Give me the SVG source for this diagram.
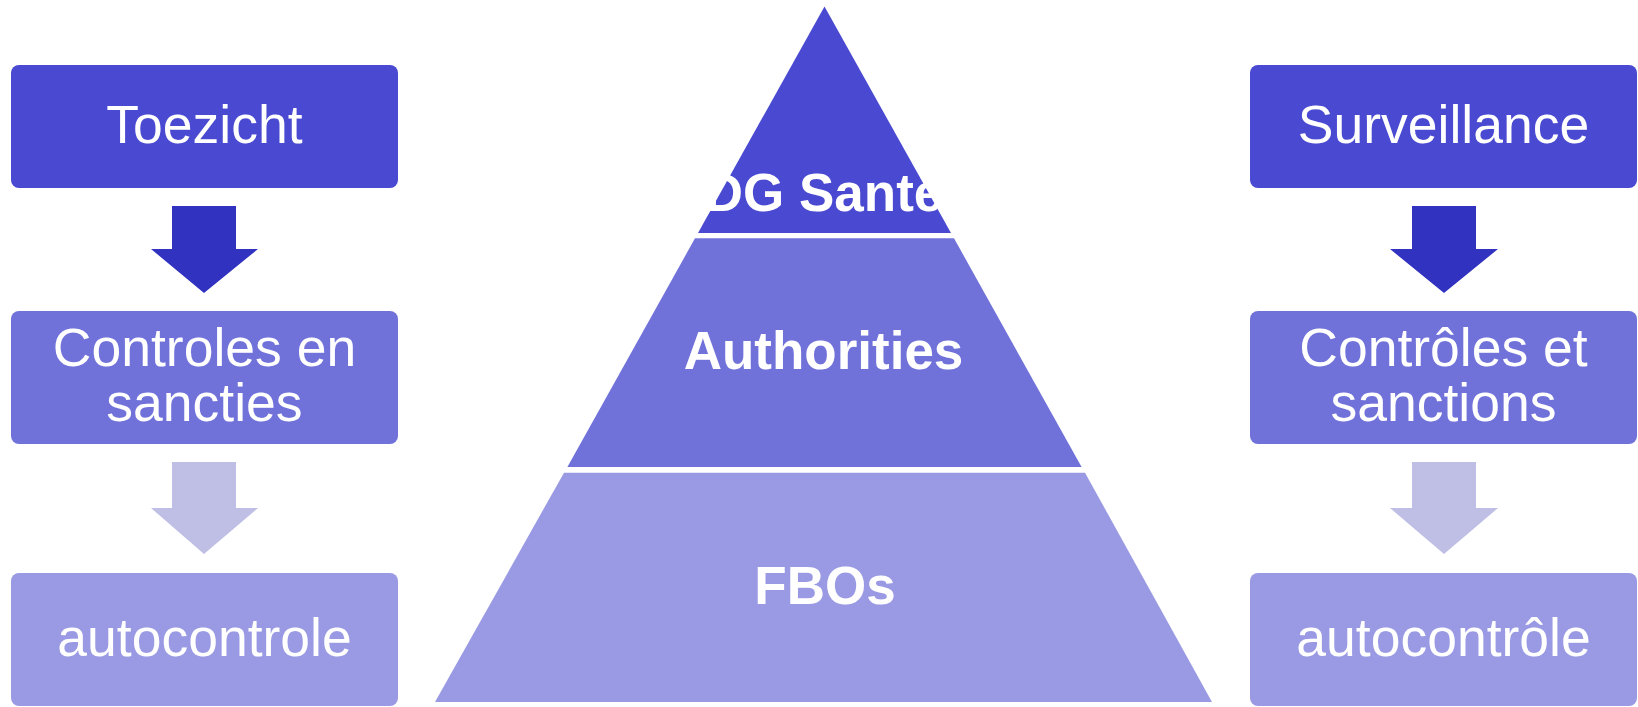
<svg xmlns="http://www.w3.org/2000/svg" width="1638" height="707" viewBox="0 0 1638 707">
<style>
.t{font-family:"Liberation Sans",Arial,sans-serif;fill:#ffffff;text-anchor:middle;font-size:53.5px}
.b{font-weight:bold;font-size:53px}
.c1{fill:#4949D1}
.c2{fill:#7072DA}
.c3{fill:#9A9AE4}
.a1{fill:#3232C0}
.a2{fill:#BFBFE6}
</style>
<rect width="1638" height="707" fill="#ffffff"/>
<g id="pyramid">
<g id="dg-sante">
<polygon class="c1" points="824.5,6.5 951,233 698,233"/>
<text class="t b" x="824" y="210.5">DG Sante</text>
</g>
<g id="authorities">
<polygon class="c2" points="695,238.3 954,238.3 1081.6,467 567.4,467"/>
<text class="t b" x="823.5" y="368.5">Authorities</text>
</g>
<g id="fbos">
<polygon class="c3" points="564,472.7 1085,472.7 1212,702 435,702"/>
<text class="t b" x="825" y="603.5">FBOs</text>
</g>
</g>
<g id="left-toezicht">
<rect class="c1" x="11" y="65" width="387" height="123" rx="8"/>
<text class="t" x="204.5" y="142.5">Toezicht</text>
</g>
<g id="left-controles">
<rect class="c2" x="11" y="311" width="387" height="133" rx="8"/>
<text class="t" x="204.5" y="365.5">Controles en</text>
<text class="t" x="204.5" y="421">sancties</text>
</g>
<g id="left-autocontrole">
<rect class="c3" x="11" y="573" width="387" height="133" rx="8"/>
<text class="t" x="204.5" y="656">autocontrole</text>
</g>
<g id="right-surveillance">
<rect class="c1" x="1250" y="65" width="387" height="123" rx="8"/>
<text class="t" x="1443.5" y="142.5">Surveillance</text>
</g>
<g id="right-controles">
<rect class="c2" x="1250" y="311" width="387" height="133" rx="8"/>
<text class="t" x="1443.5" y="365.5">Contrôles et</text>
<text class="t" x="1443.5" y="421">sanctions</text>
</g>
<g id="right-autocontrole">
<rect class="c3" x="1250" y="573" width="387" height="133" rx="8"/>
<text class="t" x="1443.5" y="656">autocontrôle</text>
</g>
<g id="connectors">
<polygon class="a1" points="172,206 236,206 236,249 258,249 204,293 151,249 172,249"/>
<polygon class="a2" points="172,462 236,462 236,508 258,508 204,554 151,508 172,508"/>
<polygon class="a1" points="1412,206 1476,206 1476,249 1498,249 1444,293 1390,249 1412,249"/>
<polygon class="a2" points="1412,462 1476,462 1476,508 1498,508 1444,554 1390,508 1412,508"/>
</g>
</svg>
